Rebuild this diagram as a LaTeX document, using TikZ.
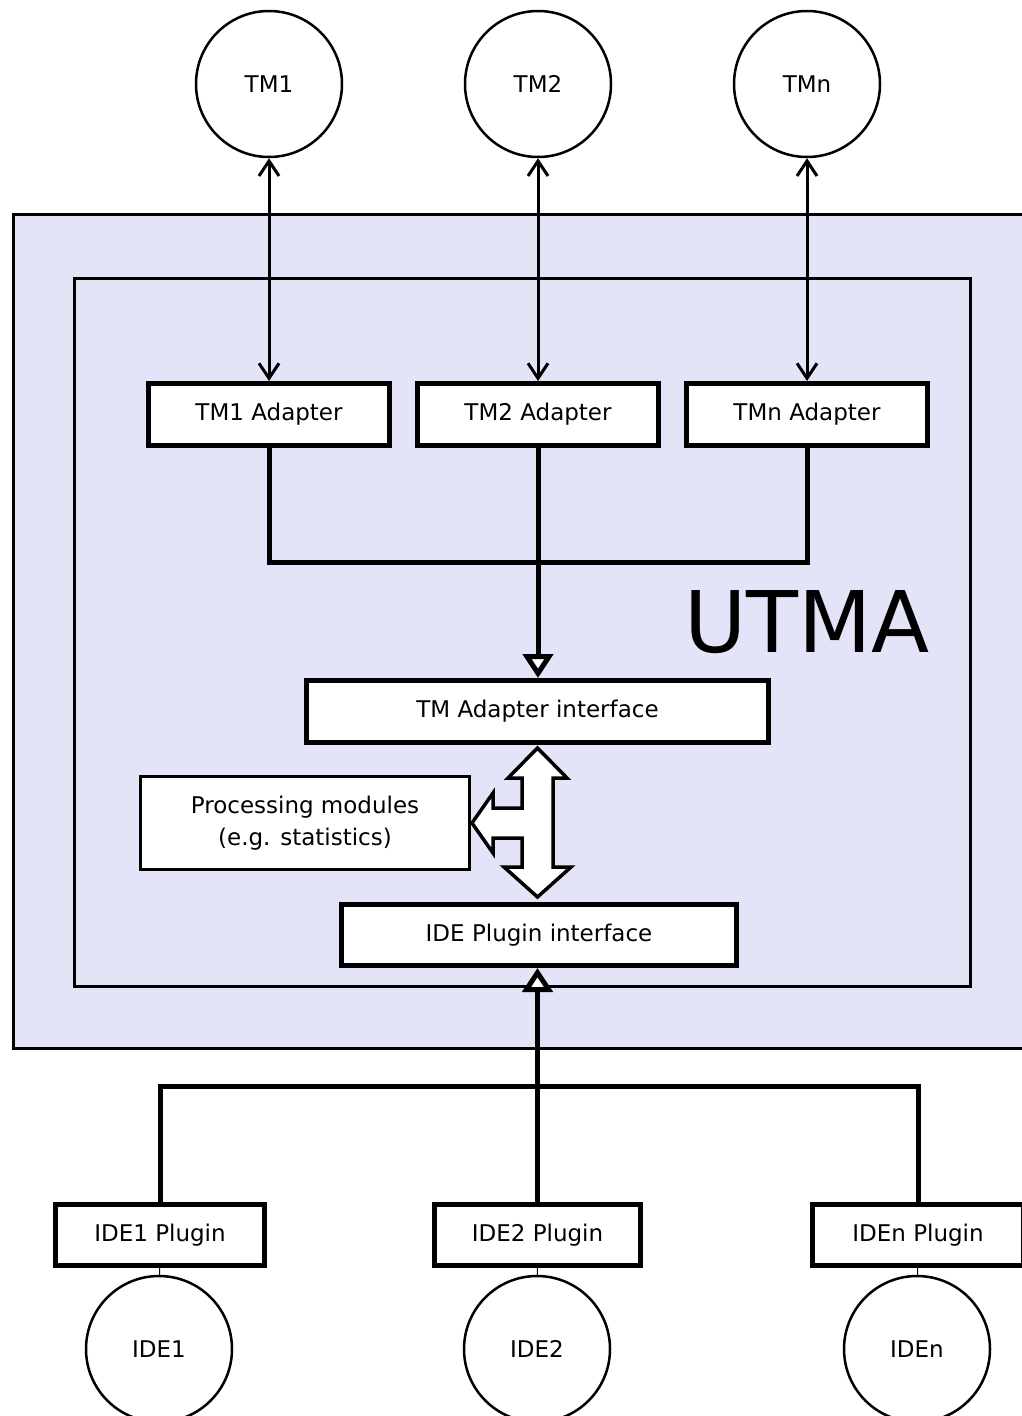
\documentclass[tikz,border=0pt]{standalone}
\usepackage{fontspec}
\setmainfont{DejaVu Sans}
\usepackage{tikz}
\usetikzlibrary{calc}
\usetikzlibrary{arrows.meta}
\usetikzlibrary{positioning}
\definecolor{utmabg}{RGB}{228, 228, 248}

\begin{document}
\begin{tikzpicture}[x=1pt, y=-1pt,
        font=\fontsize{23}{32}\selectfont,
        tmnode/.style={circle, draw, line width=2.5pt, minimum size=146pt, inner sep=0pt, fill=white},
        box/.style={draw, line width=5pt, fill=white, inner sep=0pt},
        biarrow/.style={line width=3pt, {Straight Barb[length=15pt, width=20pt]}-{Straight Barb[length=15pt, width=20pt]}},
        tree/.style={line width=5pt},
        opentip/.style={-{Triangle[length=24pt, width=30pt, line width=5pt, fill=white]}}]
            % Frame to fix the size
            \clip                                                             (0, 0) rectangle (1022, 1416);
            % UTMA area
            \draw[fill=utmabg, line width=3pt]                                (13.5, 214.5) rectangle (1040, 1048.5);
            \draw[line width=3pt]                                             (74.5, 278.5) rectangle (970.5, 986.5);
            \node[anchor=base, font=\fontsize{85}{85}\selectfont] (utma) at (807, 652) {UTMA};
            % Translation memories
            \node[tmnode] (tm1) at (269, 84) {TM1};
            \node[tmnode] (tm2) at (538, 84) {TM2};
            \node[tmnode] (tmn) at (807, 84) {TMn};
            % Adapters
            \node[box, minimum width=241pt, minimum height=62pt] (ad1) at (269, 414.5) {TM1 Adapter};
            \node[box, minimum width=241pt, minimum height=62pt] (ad2) at (538, 414.5) {TM2 Adapter};
            \node[box, minimum width=241pt, minimum height=62pt] (adn) at (807, 414.5) {TMn Adapter};
            \draw[biarrow] (tm1) -- (ad1);
            \draw[biarrow] (tm2) -- (ad2);
            \draw[biarrow] (tmn) -- (adn);
            % Interfaces
            \node[box, minimum width=462pt, minimum height=62pt] (tmif) at (537.5, 711.5) {TM Adapter interface};
            \node[box, line width=3.5pt, minimum width=329pt, minimum height=93pt, align=center] (proc) at (305, 823)
                 {Processing modules\\(e.g. statistics)};
            \node[box, minimum width=395pt, minimum height=61pt] (ideif) at (539, 935) {IDE Plugin interface};
            % Adapters to interface
            \coordinate (tmjoin) at (538, 562);
            \draw[tree] (ad1.south) |- (adn.south |- tmjoin) -- (adn.south);
            \draw[tree, opentip] (ad2.south) -- (ad2.south |- tmif.north);
            % Data flow between the interfaces
            \draw[fill=white, line width=3.5pt, line join=miter]
                 (537.5, 748) -- (567, 778) -- (553, 778) -- (553, 867) -- (571, 867) -- (537.5, 897)
                 -- (504, 867) -- (522, 867) -- (522, 838) -- (493, 838) -- (493, 853) -- (472, 823)
                 -- (493, 793) -- (493, 808) -- (522, 808) -- (522, 778) -- (508, 778) -- cycle;
            % IDE plugins
            \node[box, minimum width=209pt, minimum height=61pt] (ide1p) at (160, 1235) {IDE1 Plugin};
            \node[box, minimum width=206pt, minimum height=61pt] (ide2p) at (537.5, 1235) {IDE2 Plugin};
            \node[box, minimum width=211pt, minimum height=61pt] (idenp) at (918, 1235) {IDEn Plugin};
            \coordinate (idejoin) at (538, 1086);
            \draw[tree] (ide1p.north) |- (idenp.north |- idejoin) -- (idenp.north);
            \draw[tree, opentip] (ide2p.north) -- (ide2p.north |- ideif.south);
            % IDEs
            \node[tmnode] (ide1) at (159, 1349) {IDE1};
            \node[tmnode] (ide2) at (537, 1349) {IDE2};
            \node[tmnode] (iden) at (917, 1349) {IDEn};
            \draw[line width=1pt] (ide1p) -- (ide1);
            \draw[line width=1pt] (ide2p) -- (ide2);
            \draw[line width=1pt] (idenp) -- (iden);
\end{tikzpicture}
\end{document}
